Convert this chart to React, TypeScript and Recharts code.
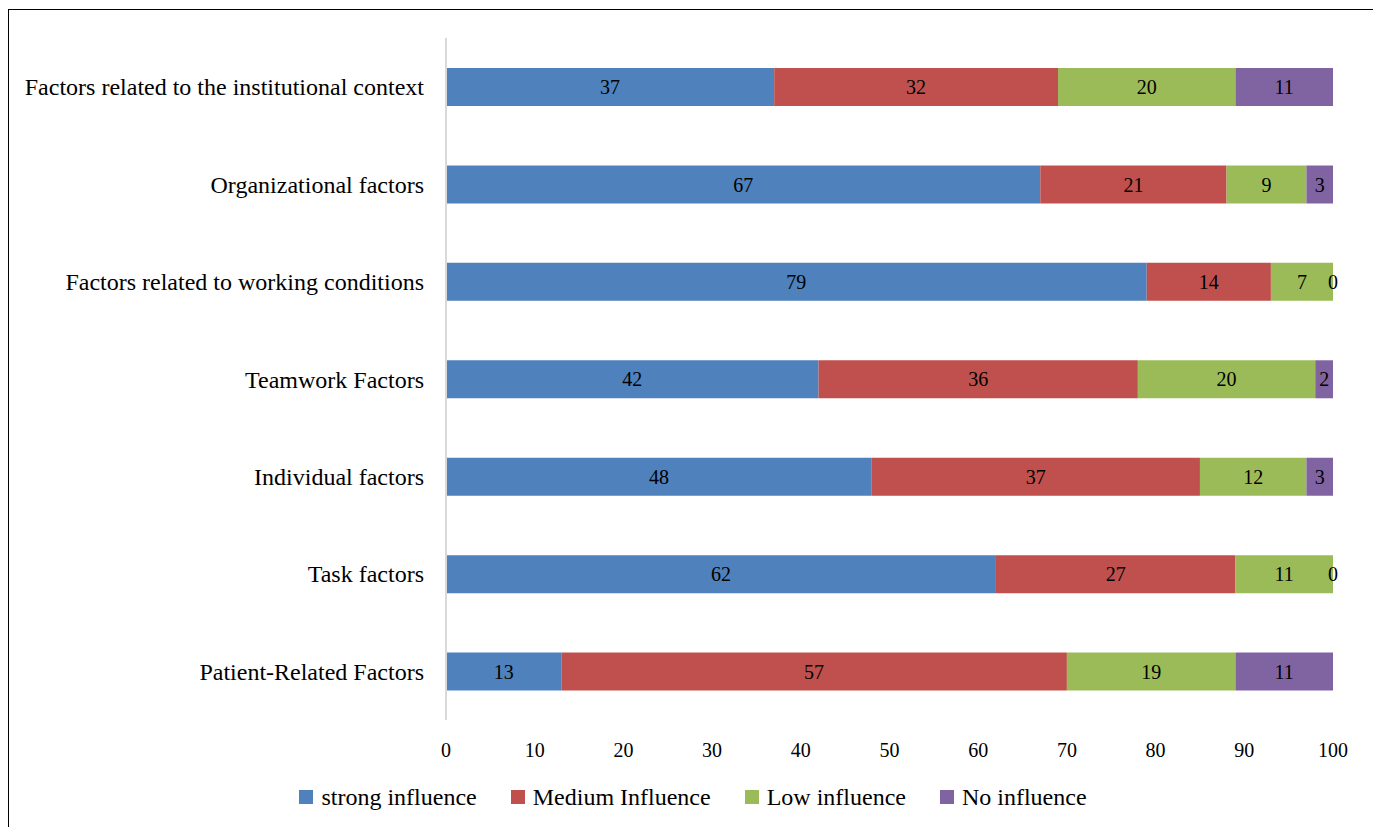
import { BarChart, Bar, XAxis, YAxis, LabelList } from "recharts";

const categories = [
  "Factors related to the institutional context",
  "Organizational factors",
  "Factors related to working conditions",
  "Teamwork Factors",
  "Individual factors",
  "Task factors",
  "Patient-Related Factors",
];

const strong = [37, 67, 79, 42, 48, 62, 13];
const medium = [32, 21, 14, 36, 37, 27, 57];
const low = [20, 9, 7, 20, 12, 11, 19];
const none = [11, 3, 0, 2, 3, 0, 11];

const xTicks = [0, 10, 20, 30, 40, 50, 60, 70, 80, 90, 100];

const series = [
  { key: "strong", name: "strong influence", color: "#4F81BD" },
  { key: "medium", name: "Medium Influence", color: "#C0504D" },
  { key: "low", name: "Low influence", color: "#9BBB59" },
  { key: "none", name: "No influence", color: "#8064A2" },
];

const data = categories.map((category, i) => ({
  category,
  strong: strong[i],
  medium: medium[i],
  low: low[i],
  none: none[i],
}));

const FONT = "'Liberation Serif', 'Times New Roman', serif";

function LegendRow() {
  return (
    <div
      style={{
        position: "absolute",
        left: 0,
        right: 0,
        top: 774,
        display: "flex",
        justifyContent: "center",
        alignItems: "center",
        fontSize: 24,
        lineHeight: "26px",
        color: "#000",
      }}
    >
      {series.map((s, i) => (
        <div
          key={s.key}
          style={{
            display: "flex",
            alignItems: "center",
            marginRight: i < series.length - 1 ? 34 : 0,
          }}
        >
          <span
            style={{
              display: "inline-block",
              width: 14,
              height: 14,
              background: s.color,
              marginRight: 8,
            }}
          />
          <span>{s.name}</span>
        </div>
      ))}
    </div>
  );
}

export default function App() {
  return (
    <div
      style={{
        position: "relative",
        marginTop: 1,
        width: 1368,
        height: 830,
        border: "1px solid #000",
        background: "#fff",
        fontFamily: FONT,
      }}
    >
      <BarChart
        width={1368}
        height={768}
        data={data}
        layout="vertical"
        barSize={38}
        margin={{ top: 28, right: 44, left: 0, bottom: 0 }}
      >
        <XAxis
          type="number"
          domain={[0, 100]}
          ticks={xTicks}
          axisLine={false}
          tickLine={false}
          tick={{ fill: "#000", fontSize: 20, fontFamily: FONT }}
          tickMargin={17}
          height={58}
        />
        <YAxis
          type="category"
          dataKey="category"
          width={437}
          axisLine={{ stroke: "#d9d9d9", strokeWidth: 2 }}
          tickLine={false}
          tick={{ fill: "#000", fontSize: 24, fontFamily: FONT }}
          tickMargin={16}
        />
        {series.map((s) => (
          <Bar
            key={s.key}
            dataKey={s.key}
            name={s.name}
            stackId="a"
            fill={s.color}
            minPointSize={0.01}
            isAnimationActive={false}
          >
            <LabelList
              dataKey={s.key}
              position="center"
              fill="#000"
              style={{ fontSize: 20, fontFamily: FONT }}
            />
          </Bar>
        ))}
      </BarChart>
      <LegendRow />
    </div>
  );
}
